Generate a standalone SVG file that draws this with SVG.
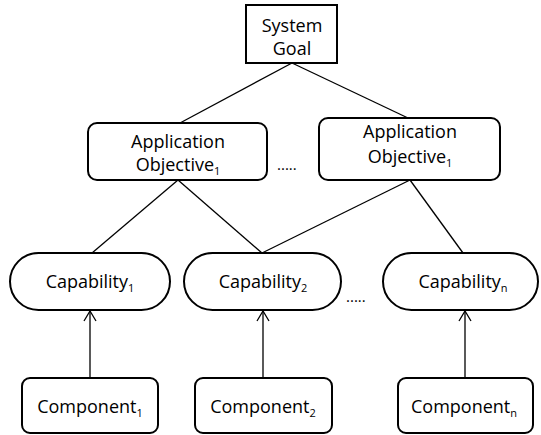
<svg xmlns="http://www.w3.org/2000/svg" width="541" height="435" viewBox="0 0 541 435">
<defs>
<style>
.box{fill:#fff;stroke:#000;stroke-width:2}
.t{font-family:"Open Sans","Liberation Sans",sans-serif;font-size:18px;fill:#000;text-anchor:middle}
.sub{font-size:11px}
.ln{stroke:#000;stroke-width:1.3;fill:none}
.dots{font-family:"Open Sans","Liberation Sans",sans-serif;font-size:15px;fill:#000}
</style>
<marker id="arr" viewBox="0 0 12 14" refX="11" refY="7" markerWidth="12" markerHeight="14" markerUnits="userSpaceOnUse" orient="auto">
<path d="M1,1 L11,7 L1,13" fill="none" stroke="#000" stroke-width="1.3"/>
</marker>
</defs>
<rect width="541" height="435" fill="#fff"/>
<g id="connectors">
<line class="ln" x1="292" y1="63" x2="180" y2="123"/>
<line class="ln" x1="292" y1="63" x2="408" y2="118"/>
<line class="ln" x1="178" y1="180" x2="92" y2="253"/>
<line class="ln" x1="178" y1="180" x2="262" y2="253"/>
<line class="ln" x1="410" y1="180" x2="262" y2="253"/>
<line class="ln" x1="410" y1="180" x2="463" y2="253"/>
<line class="ln" x1="90" y1="378" x2="90" y2="311" marker-end="url(#arr)"/>
<line class="ln" x1="263" y1="378" x2="263" y2="311" marker-end="url(#arr)"/>
<line class="ln" x1="465" y1="378" x2="465" y2="311" marker-end="url(#arr)"/>
</g>
<g id="system-goal">
<rect class="box" x="246" y="5" width="91" height="58"/>
<text class="t" x="292" y="32">System</text>
<text class="t" x="292" y="55">Goal</text>
</g>
<g id="app-objective-left">
<rect class="box" x="88" y="123" width="179" height="57" rx="9"/>
<text class="t" x="178" y="148">Application</text>
<text class="t" x="178" y="171">Objective<tspan class="sub" dy="4">1</tspan></text>
</g>
<g id="app-objective-right">
<rect class="box" x="319" y="118" width="181" height="62" rx="9"/>
<text class="t" x="410" y="138">Application</text>
<text class="t" x="410" y="163">Objective<tspan class="sub" dy="4">1</tspan></text>
</g>
<text class="dots" x="277" y="170">.....</text>
<g id="capability-1">
<rect class="box" x="10" y="253" width="160" height="57" rx="28.5"/>
<text class="t" x="90" y="288">Capability<tspan class="sub" dy="4">1</tspan></text>
</g>
<g id="capability-2">
<rect class="box" x="184" y="253" width="157" height="57" rx="28.5"/>
<text class="t" x="263" y="288">Capability<tspan class="sub" dy="4">2</tspan></text>
</g>
<g id="capability-n">
<rect class="box" x="383" y="253" width="155" height="57" rx="28.5"/>
<text class="t" x="463" y="288">Capability<tspan class="sub" dy="4">n</tspan></text>
</g>
<text class="dots" x="346" y="302">.....</text>
<g id="component-1">
<rect class="box" x="22" y="378" width="136" height="55" rx="8"/>
<text class="t" x="90" y="413">Component<tspan class="sub" dy="4">1</tspan></text>
</g>
<g id="component-2">
<rect class="box" x="195" y="378" width="137" height="55" rx="8"/>
<text class="t" x="263" y="413">Component<tspan class="sub" dy="4">2</tspan></text>
</g>
<g id="component-n">
<rect class="box" x="398" y="378" width="135" height="55" rx="8"/>
<text class="t" x="464" y="413">Component<tspan class="sub" dy="4">n</tspan></text>
</g>
</svg>
